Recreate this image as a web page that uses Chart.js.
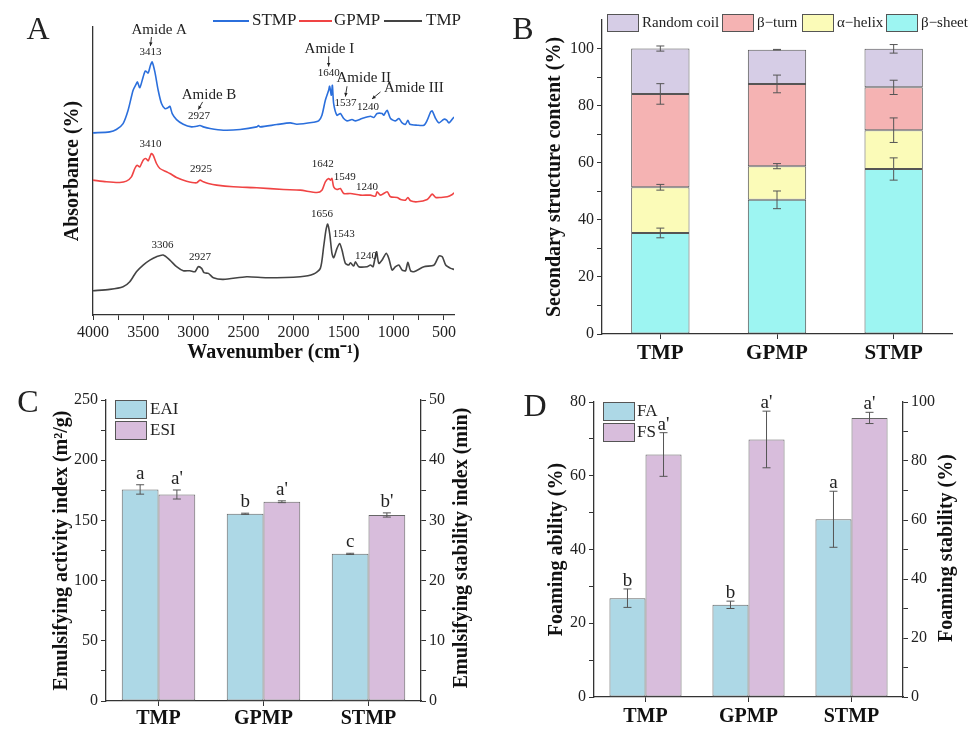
<!DOCTYPE html>
<html>
<head>
<meta charset="utf-8">
<script src="https://cdn.jsdelivr.net/npm/chart.js@4.4.0/dist/chart.umd.min.js"></script>
<style>
  body { margin: 0; background: #fff; }
  .panel { position: absolute; }
</style>
</head>
<body>
<div class="panel" style="left:0;top:0"><canvas id="chartA" width="488" height="365"></canvas></div>
<div class="panel" style="left:488px;top:0"><canvas id="chartB" width="488" height="365"></canvas></div>
<div class="panel" style="left:0;top:365px"><canvas id="chartC" width="488" height="364"></canvas></div>
<div class="panel" style="left:488px;top:365px"><canvas id="chartD" width="488" height="364"></canvas></div>
<script>
const SERIF = '"Liberation Serif", "Times New Roman", serif';
Chart.defaults.font.family = SERIF;
Chart.defaults.color = '#222';
Chart.defaults.animation = false;

// ---------- A : FTIR spectra ----------
const wnTicksA = [500, 750, 1000, 1250, 1500, 1750, 2000, 2250, 2500, 2750, 3000, 3250, 3500, 3750, 4000];
const wnLabelsA = [500, 1000, 1500, 2000, 2500, 3000, 3500, 4000];

const stmpSpectrum = [
  [4000, 54.7], [3833, 55.0], [3767, 55.7], [3700, 57.5], [3650, 61.5], [3600, 67.5], [3567, 69.5],
  [3557, 70.0], [3533, 68.3], [3500, 71.5], [3477, 73.3], [3450, 72.7], [3427, 75.0], [3410, 76.0],
  [3383, 73.0], [3350, 67.5], [3317, 63.5], [3283, 62.0], [3250, 62.3], [3233, 62.7], [3210, 60.5],
  [3167, 58.7], [3100, 57.3], [3017, 56.5], [2967, 56.7], [2933, 56.9], [2900, 56.5], [2833, 56.0],
  [2700, 55.5], [2533, 55.7], [2367, 56.5], [2350, 56.9], [2333, 56.5], [2167, 57.2], [2033, 57.7],
  [1967, 57.3], [1800, 57.9], [1750, 58.3], [1717, 60.0], [1683, 64.5], [1650, 67.5], [1640, 68.7],
  [1623, 66.0], [1613, 69.0], [1600, 63.5], [1567, 60.0], [1533, 60.5], [1500, 59.0], [1467, 58.3],
  [1417, 58.7], [1383, 58.3], [1317, 59.0], [1233, 59.7], [1200, 59.3], [1167, 60.5], [1117, 60.5],
  [1100, 60.0], [1067, 61.5], [1033, 59.0], [983, 58.3], [950, 59.0], [917, 57.7], [883, 57.3],
  [860, 58.5], [840, 57.3], [767, 57.0], [700, 57.0], [667, 58.5], [633, 61.0], [617, 61.3],
  [583, 59.0], [550, 57.7], [500, 58.8], [473, 58.5], [450, 57.7], [400, 59.5]
];
const gpmpSpectrum = [
  [4000, 40.5], [3867, 40.0], [3733, 39.8], [3667, 40.2], [3617, 41.5], [3583, 44.0], [3560, 45.0],
  [3533, 44.5], [3500, 46.5], [3473, 47.0], [3450, 46.3], [3433, 47.5], [3417, 48.5], [3400, 48.0],
  [3367, 45.5], [3333, 44.0], [3267, 43.0], [3233, 42.5], [3167, 41.3], [3067, 40.2], [2967, 39.7],
  [2933, 40.5], [2900, 40.0], [2850, 39.5], [2767, 39.0], [2600, 38.5], [2367, 38.2], [2100, 37.7],
  [1933, 37.5], [1767, 36.8], [1717, 37.5], [1683, 40.0], [1650, 41.0], [1633, 40.5], [1617, 41.0],
  [1600, 38.5], [1567, 37.7], [1533, 38.0], [1500, 36.5], [1433, 36.5], [1333, 36.0], [1233, 36.0],
  [1183, 35.7], [1167, 37.0], [1133, 36.0], [1067, 37.0], [1033, 35.5], [967, 35.3], [933, 34.7],
  [883, 34.5], [860, 35.3], [833, 34.3], [767, 34.0], [667, 34.7], [617, 36.3], [583, 35.3],
  [533, 35.3], [467, 35.5], [417, 36.2], [400, 36.7]
];
const tmpSpectrum = [
  [4000, 7.3], [3833, 7.7], [3700, 8.5], [3633, 10.0], [3567, 13.0], [3500, 15.0], [3433, 16.5],
  [3367, 17.5], [3300, 18.0], [3233, 16.5], [3167, 14.5], [3100, 13.3], [3033, 13.3], [2983, 13.0],
  [2950, 14.5], [2917, 14.0], [2893, 12.7], [2850, 12.5], [2800, 11.2], [2700, 10.7], [2467, 11.5],
  [2267, 11.2], [1933, 11.5], [1800, 12.3], [1733, 14.0], [1700, 20.5], [1677, 25.5], [1660, 27.3],
  [1640, 24.5], [1617, 18.5], [1600, 17.2], [1567, 20.0], [1540, 21.5], [1517, 19.5], [1483, 15.5],
  [1450, 15.0], [1433, 15.7], [1400, 14.7], [1383, 16.0], [1350, 14.5], [1267, 14.5], [1233, 15.0],
  [1207, 14.5], [1173, 19.0], [1150, 15.5], [1117, 16.5], [1077, 18.5], [1050, 17.0], [1017, 13.5],
  [983, 14.5], [950, 15.0], [917, 13.5], [883, 13.3], [860, 15.8], [833, 13.3], [800, 13.0],
  [700, 14.5], [600, 15.0], [550, 17.7], [517, 17.5], [483, 15.0], [433, 14.0], [400, 13.7]
];

// peak annotations (wavenumber, absorbance, text, font size)
const peakLabelsA = [
  [3340, 85.7, 'Amide A', 15], [3427, 79.0, '3413', 11],
  [2843, 66.2, 'Amide B', 15], [2943, 59.7, '2927', 11],
  [1643, 79.8, 'Amide I', 15], [1650, 72.8, '1640', 11],
  [1300, 71.2, 'Amide II', 15], [1483, 63.7, '1537', 11],
  [800, 68.2, 'Amide III', 15], [1257, 62.5, '1240', 11],
  [3427, 51.3, '3410', 11], [2923, 43.7, '2925', 11], [1710, 45.4, '1642', 11],
  [1490, 41.4, '1549', 11], [1267, 38.5, '1240', 11],
  [3307, 21.0, '3306', 11], [2933, 17.4, '2927', 11], [1717, 30.3, '1656', 11],
  [1500, 24.3, '1543', 11], [1277, 17.7, '1240', 11]
];
const peakArrowsA = [
  [3417, 83.5, 3427, 80.8], [2907, 64.0, 2950, 61.7], [1650, 77.7, 1650, 74.6],
  [1467, 68.7, 1483, 65.6], [1133, 67.0, 1217, 64.9]
];

// ---------- B : secondary structure ----------
const samples = ['TMP', 'GPMP', 'STMP'];
const sheetB = [35.4, 47.0, 57.8];
const sheetErrB = [1.7, 3.1, 3.9];
const helixB = [16.0, 11.8, 13.6];
const helixErrB = [1.0, 0.9, 4.3];
const turnB = [32.7, 28.8, 15.0];
const turnErrB = [3.6, 3.1, 2.5];
const coilB = [15.9, 12.0, 13.5];
const coilErrB = [0.9, 0.1, 1.5];

// ---------- C : emulsifying ----------
const eaiC = [175.7, 155.5, 122.2];
const eaiErrC = [3.9, 0.5, 0.5];
const eaiLetters = ['a', 'b', 'c'];
const esiC = [34.3, 33.1, 30.9];
const esiErrC = [0.75, 0.15, 0.35];
const esiLetters = ["a'", "a'", "b'"];

// ---------- D : foaming ----------
const faD = [26.8, 25.0, 48.2];
const faErrD = [2.5, 1.0, 7.6];
const faLetters = ['b', 'b', 'a'];
const fsD = [82.2, 87.3, 94.6];
const fsErrD = [7.4, 9.6, 1.9];
const fsLetters = ["a'", "a'", "a'"];

const AXIS = '#333';
const BLUE = '#2b6fdc', RED = '#f04444', GREY = '#444';
const EAI_COL = '#add8e6', ESI_COL = '#d8bddc';

function text(ctx, s, x, y, size, opts = {}) {
  ctx.save();
  ctx.font = (opts.bold ? 'bold ' : '') + size + 'px ' + SERIF;
  ctx.fillStyle = opts.color || '#222';
  ctx.textAlign = opts.align || 'left';
  ctx.textBaseline = opts.baseline || 'middle';
  if (opts.rotate) {
    ctx.translate(x, y);
    ctx.rotate(opts.rotate);
    ctx.fillText(s, 0, 0);
  } else {
    ctx.fillText(s, x, y);
  }
  ctx.restore();
}

function box(ctx, x, y, w, h, fill) {
  ctx.save();
  ctx.fillStyle = fill;
  ctx.strokeStyle = '#555';
  ctx.lineWidth = 1;
  ctx.fillRect(x, y, w, h);
  ctx.strokeRect(x + 0.5, y + 0.5, w - 1, h - 1);
  ctx.restore();
}

// error bars + significance letters on bar charts
function errorBars(gap) {
  return {
    id: 'errorBars',
    afterDatasetsDraw(chart) {
      const ctx = chart.ctx;
      chart.data.datasets.forEach((ds, di) => {
        const meta = chart.getDatasetMeta(di);
        const ys = chart.scales[meta.yAxisID];
        meta.data.forEach((bar, i) => {
          const h = ys.getPixelForValue(0) - ys.getPixelForValue(ds.errors[i]);
          ctx.save();
          ctx.strokeStyle = '#555';
          ctx.lineWidth = 1;
          ctx.beginPath();
          ctx.moveTo(bar.x, bar.y - h); ctx.lineTo(bar.x, bar.y + h);
          ctx.moveTo(bar.x - 4, bar.y - h); ctx.lineTo(bar.x + 4, bar.y - h);
          ctx.moveTo(bar.x - 4, bar.y + h); ctx.lineTo(bar.x + 4, bar.y + h);
          ctx.stroke();
          ctx.restore();
          if (ds.letters) {
            text(ctx, ds.letters[i], bar.x, bar.y - h - gap, 19, {align: 'center', baseline: 'alphabetic'});
          }
        });
      });
    }
  };
}

function axisStyle(extra) {
  return Object.assign({
    grid: {display: true, drawOnChartArea: false, tickLength: 5, color: AXIS},
    border: {display: true, color: AXIS, width: 1.3},
  }, extra);
}

// ---------- chart A ----------
new Chart(document.getElementById('chartA'), {
  type: 'line',
  data: {
    datasets: [
      {label: 'STMP', data: stmpSpectrum, borderColor: BLUE},
      {label: 'GPMP', data: gpmpSpectrum, borderColor: RED},
      {label: 'TMP', data: tmpSpectrum, borderColor: GREY}
    ].map(d => Object.assign(d, {borderWidth: 1.6, pointRadius: 0, tension: 0.25, fill: false}))
  },
  options: {
    responsive: false,
    layout: {padding: {left: 61, top: 27, right: 34, bottom: 0}},
    plugins: {legend: {display: false}, tooltip: {enabled: false}},
    scales: {
      x: axisStyle({
        type: 'linear', reverse: true, min: 400, max: 4000,
        afterBuildTicks: s => { s.ticks = wnTicksA.map(v => ({value: v})); },
        afterFit: s => { s.height = 50; },
        ticks: {font: {size: 16}, color: '#222', padding: 3, maxRotation: 0, autoSkip: false,
                callback: v => wnLabelsA.includes(v) ? String(v) : ''},
        title: {display: true, text: 'Wavenumber (cm⁻¹)', font: {size: 20, weight: 'bold'}, padding: 0, color: '#111'}
      }),
      y: {
        min: 0, max: 86.5,
        ticks: {display: false},
        grid: {display: false},
        border: {display: true, color: AXIS, width: 1.3},
        afterFit: s => { s.width = 32; },
        title: {display: true, text: 'Absorbance (%)', font: {size: 20, weight: 'bold'}, padding: 0, color: '#111'}
      }
    }
  },
  plugins: [{
    id: 'overlayA',
    afterDraw(chart) {
      const ctx = chart.ctx, xs = chart.scales.x, ys = chart.scales.y;
      text(ctx, 'A', 38, 31, 32, {align: 'center'});
      // legend
      [[213, 249, BLUE, 'STMP', 252], [299, 332, RED, 'GPMP', 334], [384, 422, GREY, 'TMP', 426]].forEach(l => {
        ctx.save();
        ctx.strokeStyle = l[2]; ctx.lineWidth = 2;
        ctx.beginPath(); ctx.moveTo(l[0], 21); ctx.lineTo(l[1], 21); ctx.stroke();
        ctx.restore();
        text(ctx, l[3], l[4], 21, 17);
      });
      peakLabelsA.forEach(p => {
        text(ctx, p[2], xs.getPixelForValue(p[0]), ys.getPixelForValue(p[1]), p[3], {align: 'center'});
      });
      peakArrowsA.forEach(a => {
        const x1 = xs.getPixelForValue(a[0]), y1 = ys.getPixelForValue(a[1]);
        const x2 = xs.getPixelForValue(a[2]), y2 = ys.getPixelForValue(a[3]);
        const ang = Math.atan2(y2 - y1, x2 - x1);
        ctx.save();
        ctx.strokeStyle = '#222'; ctx.fillStyle = '#222'; ctx.lineWidth = 0.9;
        ctx.beginPath(); ctx.moveTo(x1, y1); ctx.lineTo(x2, y2); ctx.stroke();
        ctx.beginPath();
        ctx.moveTo(x2, y2);
        ctx.lineTo(x2 - 4 * Math.cos(ang - 0.45), y2 - 4 * Math.sin(ang - 0.45));
        ctx.lineTo(x2 - 4 * Math.cos(ang + 0.45), y2 - 4 * Math.sin(ang + 0.45));
        ctx.closePath(); ctx.fill();
        ctx.restore();
      });
    }
  }]
});

// ---------- chart B ----------
const stackStyle = {borderColor: '#555', borderWidth: 1, borderSkipped: false, barPercentage: 0.5, categoryPercentage: 1};
new Chart(document.getElementById('chartB'), {
  type: 'bar',
  data: {
    labels: samples,
    datasets: [
      Object.assign({label: 'β−sheet', data: sheetB, errors: sheetErrB, backgroundColor: '#9df5f2'}, stackStyle),
      Object.assign({label: 'α−helix', data: helixB, errors: helixErrB, backgroundColor: '#fbfbb8'}, stackStyle),
      Object.assign({label: 'β−turn', data: turnB, errors: turnErrB, backgroundColor: '#f5b3b3'}, stackStyle),
      Object.assign({label: 'Random coil', data: coilB, errors: coilErrB, backgroundColor: '#d6cde6'}, stackStyle)
    ]
  },
  options: {
    responsive: false,
    layout: {padding: {left: 55, top: 20, right: 24, bottom: 0}},
    plugins: {legend: {display: false}, tooltip: {enabled: false}},
    scales: {
      x: axisStyle({
        stacked: true,
        grid: {display: true, drawOnChartArea: false, tickLength: 5, color: AXIS, offset: false},
        afterFit: s => { s.height = 31; },
        ticks: {font: {size: 21, weight: 'bold'}, color: '#111', padding: 2}
      }),
      y: axisStyle({
        stacked: true, min: 0, max: 110,
        afterBuildTicks: s => { s.ticks = [0, 10, 20, 30, 40, 50, 60, 70, 80, 90, 100].map(v => ({value: v})); },
        afterFit: s => { s.width = 59; },
        ticks: {font: {size: 16}, color: '#222', padding: 3, callback: v => v % 20 === 0 ? String(v) : ''},
        title: {display: true, text: 'Secondary structure content (%)', font: {size: 20, weight: 'bold'}, padding: 0, color: '#111'}
      })
    }
  },
  plugins: [errorBars(0), {
    id: 'overlayB',
    afterDraw(chart) {
      const ctx = chart.ctx;
      text(ctx, 'B', 35, 31, 32, {align: 'center'});
      const items = [[119, '#d6cde6', 'Random coil'], [234, '#f5b3b3', 'β−turn'], [314, '#fbfbb8', 'α−helix'], [398, '#9df5f2', 'β−sheet']];
      items.forEach(it => {
        box(ctx, it[0], 14, 32, 18, it[1]);
        text(ctx, it[2], it[0] + 35, 23, 15);
      });
    }
  }]
});

// ---------- chart C ----------
const pairStyle = {borderColor: '#666', borderWidth: 1, borderSkipped: false, barPercentage: 1, categoryPercentage: 0.7};
new Chart(document.getElementById('chartC'), {
  type: 'bar',
  data: {
    labels: samples,
    datasets: [
      Object.assign({label: 'EAI', data: eaiC, errors: eaiErrC, letters: eaiLetters, backgroundColor: EAI_COL, yAxisID: 'y'}, pairStyle),
      Object.assign({label: 'ESI', data: esiC, errors: esiErrC, letters: esiLetters, backgroundColor: ESI_COL, yAxisID: 'y1'}, pairStyle)
    ]
  },
  options: {
    responsive: false,
    layout: {padding: {left: 50, top: 35, right: 14, bottom: 0}},
    plugins: {legend: {display: false}, tooltip: {enabled: false}},
    scales: {
      x: axisStyle({
        grid: {display: true, drawOnChartArea: false, tickLength: 5, color: AXIS, offset: false},
        afterFit: s => { s.height = 28; },
        ticks: {font: {size: 20, weight: 'bold'}, color: '#111', padding: 1}
      }),
      y: axisStyle({
        position: 'left', min: 0, max: 250,
        afterBuildTicks: s => { s.ticks = [0, 25, 50, 75, 100, 125, 150, 175, 200, 225, 250].map(v => ({value: v})); },
        afterFit: s => { s.width = 56; },
        ticks: {font: {size: 16}, color: '#222', padding: 3, callback: v => v % 50 === 0 ? String(v) : ''},
        title: {display: true, text: 'Emulsifying activity index (m²/g)', font: {size: 20, weight: 'bold'}, padding: 0, color: '#111'}
      }),
      y1: axisStyle({
        position: 'right', min: 0, max: 50,
        afterBuildTicks: s => { s.ticks = [0, 5, 10, 15, 20, 25, 30, 35, 40, 45, 50].map(v => ({value: v})); },
        afterFit: s => { s.width = 53; },
        ticks: {font: {size: 16}, color: '#222', padding: 3, callback: v => v % 10 === 0 ? String(v) : ''}
      })
    }
  },
  plugins: [errorBars(6), {
    id: 'overlayC',
    afterDraw(chart) {
      const ctx = chart.ctx;
      text(ctx, 'C', 28, 39, 32, {align: 'center'});
      text(ctx, 'Emulsifying stability index (min)', 462, 183, 20, {bold: true, align: 'center', color: '#111', rotate: -Math.PI / 2});
      box(ctx, 115, 35, 32, 19, EAI_COL);
      box(ctx, 115, 56, 32, 19, ESI_COL);
      text(ctx, 'EAI', 150, 45, 17);
      text(ctx, 'ESI', 150, 66, 17);
    }
  }]
});

// ---------- chart D ----------
new Chart(document.getElementById('chartD'), {
  type: 'bar',
  data: {
    labels: samples,
    datasets: [
      Object.assign({label: 'FA', data: faD, errors: faErrD, letters: faLetters, backgroundColor: EAI_COL, yAxisID: 'y'}, pairStyle),
      Object.assign({label: 'FS', data: fsD, errors: fsErrD, letters: fsLetters, backgroundColor: ESI_COL, yAxisID: 'y1'}, pairStyle)
    ]
  },
  options: {
    responsive: false,
    layout: {padding: {left: 57, top: 37, right: 17, bottom: 0}},
    plugins: {legend: {display: false}, tooltip: {enabled: false}},
    scales: {
      x: axisStyle({
        grid: {display: true, drawOnChartArea: false, tickLength: 5, color: AXIS, offset: false},
        afterFit: s => { s.height = 32; },
        ticks: {font: {size: 20, weight: 'bold'}, color: '#111', padding: 3}
      }),
      y: axisStyle({
        position: 'left', min: 0, max: 80,
        afterBuildTicks: s => { s.ticks = [0, 10, 20, 30, 40, 50, 60, 70, 80].map(v => ({value: v})); },
        afterFit: s => { s.width = 49; },
        ticks: {font: {size: 16}, color: '#222', padding: 3, callback: v => v % 20 === 0 ? String(v) : ''},
        title: {display: true, text: 'Foaming ability (%)', font: {size: 20, weight: 'bold'}, padding: 0, color: '#111'}
      }),
      y1: axisStyle({
        position: 'right', min: 0, max: 100,
        afterBuildTicks: s => { s.ticks = [0, 10, 20, 30, 40, 50, 60, 70, 80, 90, 100].map(v => ({value: v})); },
        afterFit: s => { s.width = 56; },
        ticks: {font: {size: 16}, color: '#222', padding: 3, callback: v => v % 20 === 0 ? String(v) : ''}
      })
    }
  },
  plugins: [errorBars(3), {
    id: 'overlayD',
    afterDraw(chart) {
      const ctx = chart.ctx;
      text(ctx, 'D', 47, 43, 32, {align: 'center'});
      text(ctx, 'Foaming stability (%)', 459, 183, 20, {bold: true, align: 'center', color: '#111', rotate: -Math.PI / 2});
      box(ctx, 115, 37, 32, 19, EAI_COL);
      box(ctx, 115, 58, 32, 19, ESI_COL);
      text(ctx, 'FA', 149, 47, 17);
      text(ctx, 'FS', 149, 68, 17);
    }
  }]
});
</script>
</body>
</html>
